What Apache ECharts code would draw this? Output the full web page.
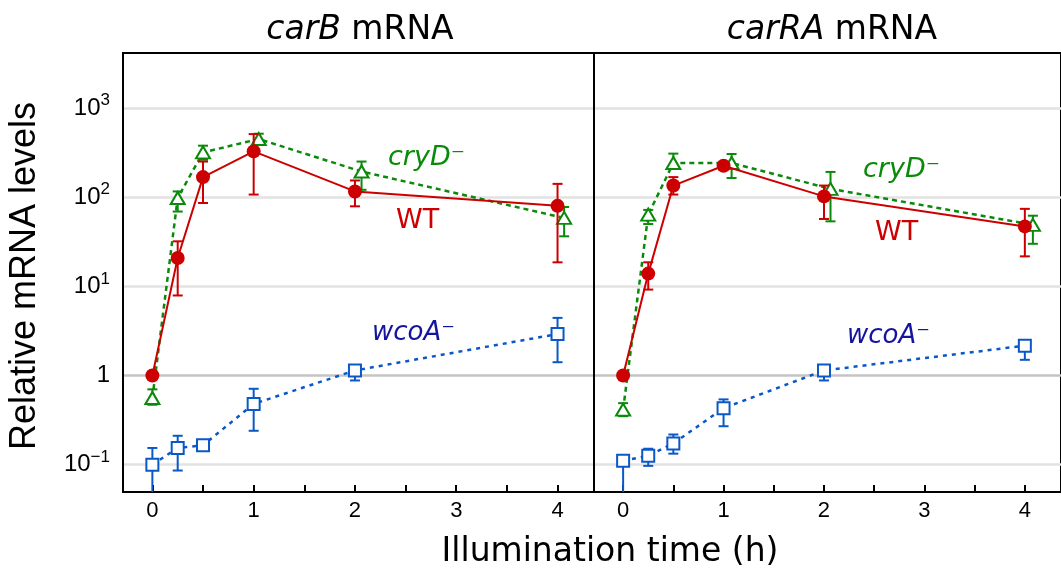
<!DOCTYPE html>
<html>
<head>
<meta charset="utf-8">
<script src="https://cdn.jsdelivr.net/npm/echarts@6/dist/echarts.min.js"></script>
<style>
html,body{margin:0;padding:0;background:#fff;}
#chart{width:1061px;height:574px;}
</style>
</head>
<body>
<div id="chart"></div>
<script>
// ---------- data ----------
const times = [0, 0.25, 0.5, 1, 2, 4];
const xTickLabels = [0, 1, 2, 3, 4];
const xMinorTicks = [0, 0.5, 1, 1.5, 2, 2.5, 3, 3.5, 4];
const yTickValues = [0.1, 1, 10, 100, 1000];
const panelTitles = ['carB', 'carRA'];

// carB panel
const carB_WT_mean = [1, 20.8, 168, 326, 116, 80];
const carB_WT_lo   = [1, 7.9, 86, 107, 79, 18.6];
const carB_WT_hi   = [1, 32, 251, 510, 154, 141];
const carB_cryD_t    = [0, 0.25, 0.5, 1.05, 2.065, 4.065];
const carB_cryD_mean = [0.56, 98, 318, 449, 194, 58.5];
const carB_cryD_lo   = [0.47, 69, 263, 388, 121, 36.4];
const carB_cryD_hi   = [0.70, 116, 378, 515, 251, 77.6];
const carB_wcoA_mean = [0.10, 0.154, 0.165, 0.48, 1.14, 2.92];
const carB_wcoA_lo   = [0.04, 0.086, 0.145, 0.24, 0.88, 1.41];
const carB_wcoA_hi   = [0.154, 0.211, 0.179, 0.71, 1.3, 4.43];

// carRA panel
const carRA_WT_mean = [1, 13.9, 135, 225, 102, 47];
const carRA_WT_lo   = [1, 9.2, 107, 205, 57, 21.7];
const carRA_WT_hi   = [1, 18.6, 168, 245, 135, 74];
const carRA_cryD_t    = [0, 0.25, 0.5, 1.08, 2.065, 4.08];
const carRA_cryD_mean = [0.415, 63.7, 242, 242, 124, 49];
const carRA_cryD_lo   = [0.35, 50, 213, 164, 53.6, 30];
const carRA_cryD_hi   = [0.49, 72, 308, 305, 192, 62];
const carRA_wcoA_mean = [0.111, 0.126, 0.173, 0.43, 1.14, 2.16];
const carRA_wcoA_lo   = [0.04, 0.097, 0.133, 0.27, 0.88, 1.5];
const carRA_wcoA_hi   = [0.122, 0.151, 0.218, 0.54, 1.3, 2.5];

// ---------- styling ----------
const Y_MIN = 0.0494, Y_MAX = 4140;
const X_MIN = -0.29, X_MAX = 4.36;
const RED = '#cc0000', GREEN = '#0a8a0a', BLUE = '#0a58c8', NAVY = '#1414a0';
const SANS = 'Liberation Sans';
const VER = 'DejaVu Sans';

const panels = [
  {
    WT: [times, carB_WT_mean, carB_WT_lo, carB_WT_hi],
    cryD: [carB_cryD_t, carB_cryD_mean, carB_cryD_lo, carB_cryD_hi],
    wcoA: [times, carB_wcoA_mean, carB_wcoA_lo, carB_wcoA_hi]
  },
  {
    WT: [times, carRA_WT_mean, carRA_WT_lo, carRA_WT_hi],
    cryD: [carRA_cryD_t, carRA_cryD_mean, carRA_cryD_lo, carRA_cryD_hi],
    wcoA: [times, carRA_wcoA_mean, carRA_wcoA_lo, carRA_wcoA_hi]
  }
];

function errRender(params, api) {
  const x = api.value(0), lo = api.value(1), hi = api.value(2);
  if (!(hi > lo)) return null;
  const loC = Math.max(lo, Y_MIN);
  const top = api.coord([x, hi]);
  const bot = api.coord([x, loC]);
  const color = api.visual('color');
  const w = 5;
  const st = { stroke: color, lineWidth: 2 };
  const children = [
    { type: 'line', shape: { x1: top[0], y1: top[1], x2: bot[0], y2: bot[1] }, style: st },
    { type: 'line', shape: { x1: top[0] - w, y1: top[1], x2: top[0] + w, y2: top[1] }, style: st }
  ];
  if (lo >= Y_MIN) {
    children.push({ type: 'line', shape: { x1: bot[0] - w, y1: bot[1], x2: bot[0] + w, y2: bot[1] }, style: st });
  }
  return { type: 'group', children };
}

const grids = [], xAxes = [], yAxes = [], series = [];
const gridLefts = [123, 594];
panels.forEach((p, i) => {
  grids.push({ left: gridLefts[i], top: 53, width: 471, height: 439, show: true,
    borderColor: '#000', borderWidth: 2, backgroundColor: 'transparent' });
  xAxes.push({
    gridIndex: i, type: 'value', min: X_MIN, max: X_MAX,
    axisLine: { show: true, onZero: false, lineStyle: { color: '#000', width: 2 } },
    axisTick: { show: true, inside: true, length: 7, customValues: xMinorTicks, lineStyle: { color: '#000', width: 2 } },
    axisLabel: { show: true, customValues: xTickLabels, color: '#000', fontSize: 22, fontFamily: SANS, margin: 8 },
    splitLine: { show: false }
  });
  yAxes.push({
    gridIndex: i, type: 'log', logBase: 10, min: Y_MIN, max: Y_MAX,
    axisLine: { show: true, onZero: false, lineStyle: { color: '#000', width: 2 } },
    axisTick: { show: false },
    splitLine: { show: false },
    axisLabel: {
      show: i === 0, customValues: yTickValues, margin: 13, color: '#000',
      formatter: function (v) {
        const e = Math.round(Math.log10(v));
        if (e === 0) return '{b|1}';
        return '{b|10}{s|' + (e < 0 ? '\u2212' + (-e) : e) + '}';
      },
      rich: {
        b: { fontSize: 24, fontFamily: SANS, color: '#000', lineHeight: 32 },
        s: { fontSize: 17, fontFamily: SANS, color: '#000', lineHeight: 17, verticalAlign: 'top' }
      }
    }
  });
  // gridlines
  series.push({
    type: 'line', xAxisIndex: i, yAxisIndex: i, data: [[X_MIN, 1]], symbol: 'none',
    lineStyle: { opacity: 0 }, silent: true, z: 0,
    markLine: {
      silent: true, symbol: 'none', z: 0, label: { show: false }, animation: false,
      data: yTickValues.map(v => ({ yAxis: v, lineStyle: { color: v === 1 ? '#c4c4c4' : '#e2e2e2', width: 2.5, type: 'solid' } }))
    }
  });
  const defs = [
    { key: 'wcoA', color: BLUE, symbol: 'rect', size: 12, fill: '#fff', dash: [4, 5], lw: 2.5 },
    { key: 'cryD', color: GREEN, symbol: 'triangle', size: [14, 12], fill: '#fff', dash: [5, 4], lw: 2.5 },
    { key: 'WT', color: RED, symbol: 'circle', size: 14, fill: RED, dash: 'solid', lw: 2 }
  ];
  defs.forEach((d, k) => {
    const [t, m, lo, hi] = p[d.key];
    series.push({
      type: 'custom', xAxisIndex: i, yAxisIndex: i, renderItem: errRender,
      itemStyle: { color: d.color }, z: 2 + k * 2,
      encode: { x: 0, y: [1, 2] },
      data: t.map((x, j) => [x, lo[j], hi[j]]), silent: true
    });
    series.push({
      type: 'line', xAxisIndex: i, yAxisIndex: i, z: 3 + k * 2,
      data: t.map((x, j) => [x, m[j]]),
      symbol: d.symbol, symbolSize: d.size, showAllSymbol: true,
      itemStyle: { color: d.fill, borderColor: d.color, borderWidth: d.key === 'WT' ? 0 : 2 },
      lineStyle: { color: d.color, width: d.lw, type: d.dash },
      emphasis: { disabled: true }, silent: true
    });
  });
});

function txt(x, y, text, opts) {
  return Object.assign({
    type: 'text', x: x, y: y, silent: true,
    style: Object.assign({ text: text, fill: '#000', align: 'left', verticalAlign: 'middle',
      textAlign: 'left', textVerticalAlign: 'middle' }, opts)
  });
}

const richAnn = function (color, size) {
  return {
    i: { fontStyle: 'italic', fontFamily: VER, fontSize: size, fill: color, color: color },
    s: { fontFamily: VER, fontSize: size, fill: color, color: color }
  };
};

const TS = 33;
const graphics = [
  // panel titles
  txt(360, 30, '{i|' + panelTitles[0] + '} mRNA', { align: 'center', textAlign: 'center', fontSize: TS, fontFamily: VER,
    rich: { i: { fontStyle: 'italic', fontSize: TS, fontFamily: VER } } }),
  txt(832, 30, '{i|' + panelTitles[1] + '} mRNA', { align: 'center', textAlign: 'center', fontSize: TS, fontFamily: VER,
    rich: { i: { fontStyle: 'italic', fontSize: TS, fontFamily: VER } } }),
  // x axis name
  txt(610, 552, 'Illumination time (h)', { align: 'center', textAlign: 'center', fontSize: 33, fontFamily: VER }),
  // annotations left
  txt(388, 158, '{i|cryD}{s|\u207B}', { fontSize: 27, fontFamily: VER, fill: GREEN, rich: richAnn(GREEN, 27) }),
  txt(396, 221, 'WT', { fontSize: 27, fontFamily: VER, fill: RED }),
  txt(372, 333, '{i|wcoA}{s|\u207B}', { fontSize: 26, fontFamily: VER, fill: NAVY, rich: richAnn(NAVY, 26) }),
  // annotations right
  txt(863, 170, '{i|cryD}{s|\u207B}', { fontSize: 27, fontFamily: VER, fill: GREEN, rich: richAnn(GREEN, 27) }),
  txt(875, 233, 'WT', { fontSize: 27, fontFamily: VER, fill: RED }),
  txt(847, 336, '{i|wcoA}{s|\u207B}', { fontSize: 26, fontFamily: VER, fill: NAVY, rich: richAnn(NAVY, 26) })
];
const yName = txt(25, 276, 'Relative mRNA levels', { align: 'center', textAlign: 'center', fontSize: 36, fontFamily: SANS });
yName.rotation = Math.PI / 2;
graphics.push(yName);

const chart = echarts.init(document.getElementById('chart'), null, { renderer: 'canvas' });
chart.setOption({
  animation: false,
  backgroundColor: '#fff',
  grid: grids,
  xAxis: xAxes,
  yAxis: yAxes,
  series: series,
  graphic: graphics
});
</script>
</body>
</html>
